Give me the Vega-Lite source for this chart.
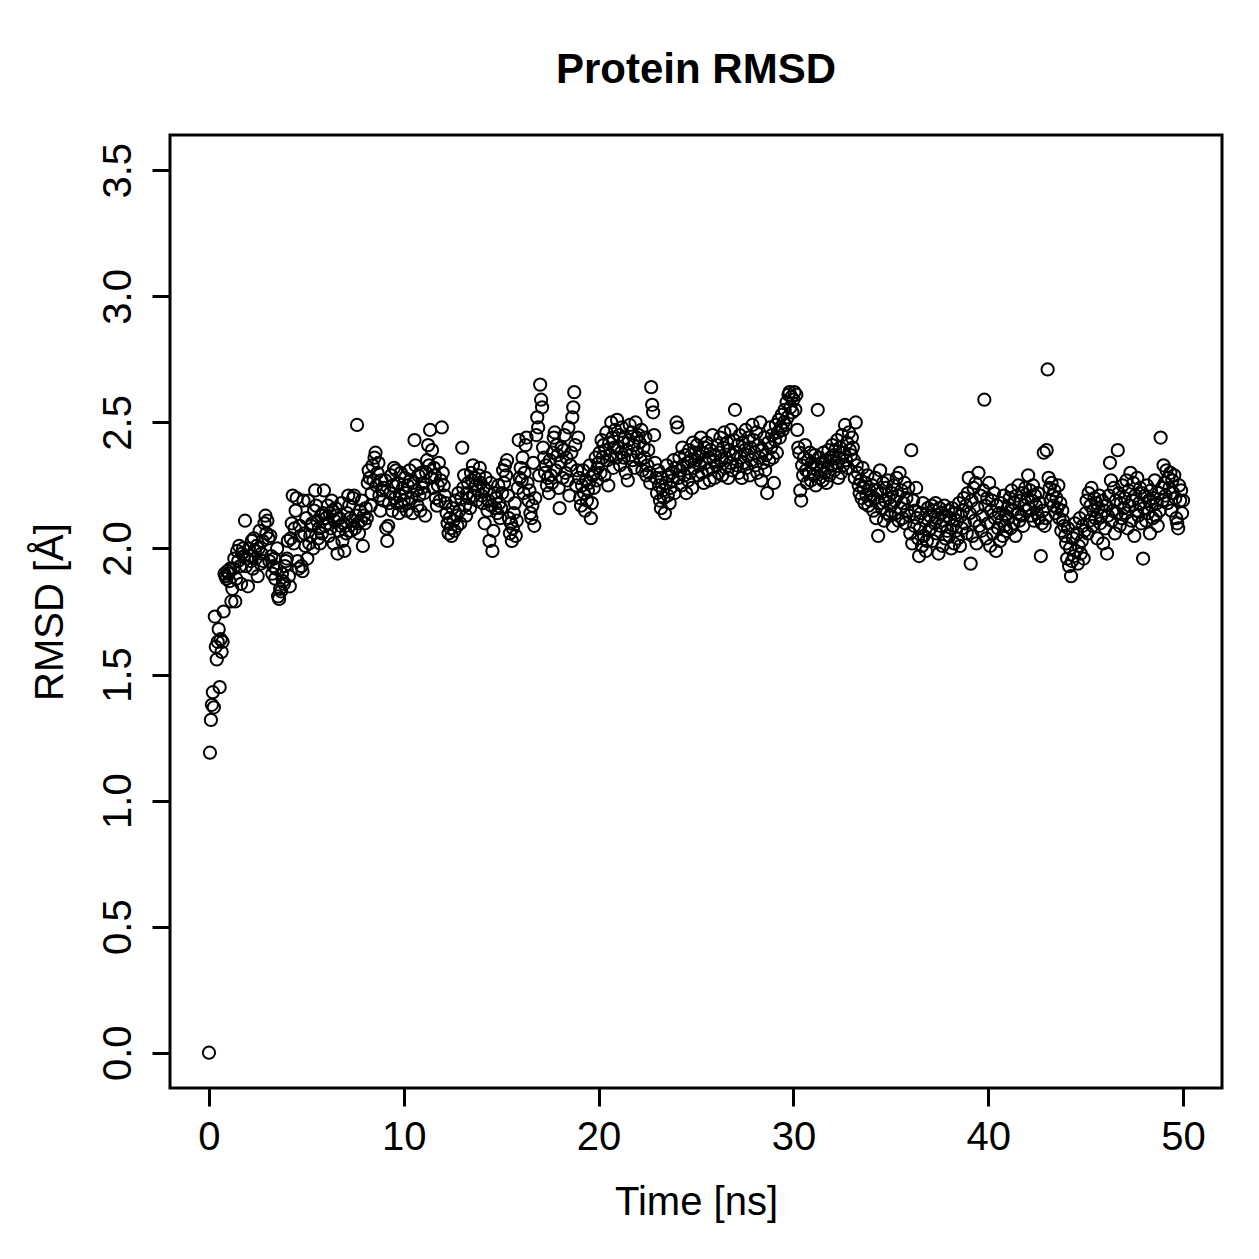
{
  "$schema": "https://vega.github.io/schema/vega-lite/v6.json",
  "width": 1052,
  "height": 953,
  "autosize": {"type": "none"},
  "padding": {"left": 170, "top": 135, "right": 37, "bottom": 171},
  "background": "white",
  "title": {"text": "Protein RMSD", "fontSize": 42, "fontWeight": "bold", "font": "Liberation Sans", "color": "black", "anchor": "middle", "offset": 43},
  "config": {
    "view": {"stroke": "black", "strokeWidth": 3},
    "font": "Liberation Sans"
  },
  "data": {
    "format": {"type": "csv", "parse": {"t": "number", "r": "number"}},
    "values": "t,r\n0,0.00\n0.05,1.19\n0.1,1.32\n0.15,1.38\n0.2,1.43\n0.25,1.37\n0.3,1.73\n0.35,1.61\n0.4,1.56\n0.45,1.63\n0.5,1.68\n0.55,1.45\n0.6,1.64\n0.65,1.59\n0.7,1.63\n0.75,1.75\n0.8,1.90\n0.85,1.89\n0.9,1.88\n0.95,1.91\n1,1.90\n1.05,1.87\n1.1,1.92\n1.15,1.79\n1.2,1.84\n1.25,1.92\n1.3,1.96\n1.35,1.79\n1.4,1.88\n1.45,1.99\n1.5,1.95\n1.55,2.01\n1.6,1.93\n1.65,1.86\n1.7,1.98\n1.75,2.00\n1.8,1.97\n1.85,2.11\n1.9,1.93\n1.95,1.96\n2,1.85\n2.05,2.00\n2.1,1.97\n2.15,1.95\n2.2,2.03\n2.25,1.92\n2.3,2.04\n2.35,1.99\n2.4,1.96\n2.45,2.01\n2.5,1.89\n2.55,2.00\n2.6,2.07\n2.65,1.94\n2.7,1.98\n2.75,2.03\n2.8,1.95\n2.85,2.10\n2.9,2.13\n2.95,2.06\n3,2.11\n3.05,2.04\n3.1,1.95\n3.15,2.05\n3.2,1.97\n3.25,1.90\n3.3,1.93\n3.35,1.96\n3.4,1.88\n3.45,1.92\n3.5,2.00\n3.55,1.81\n3.6,1.80\n3.65,1.84\n3.7,1.83\n3.75,1.90\n3.8,1.87\n3.85,1.86\n3.9,1.93\n3.95,1.95\n4,1.96\n4.05,2.03\n4.1,1.89\n4.15,1.85\n4.2,2.04\n4.25,2.10\n4.3,2.21\n4.35,2.02\n4.4,2.08\n4.45,2.15\n4.5,2.20\n4.55,1.95\n4.6,1.92\n4.65,2.09\n4.7,2.05\n4.75,1.93\n4.8,1.91\n4.85,2.19\n4.9,2.06\n4.95,2.01\n5,2.12\n5.05,1.96\n5.1,2.19\n5.15,2.02\n5.2,2.05\n5.25,2.09\n5.3,2.10\n5.35,2.00\n5.4,2.15\n5.45,2.23\n5.5,2.17\n5.55,2.11\n5.6,2.04\n5.65,2.08\n5.7,2.02\n5.75,2.13\n5.8,2.06\n5.85,2.14\n5.9,2.23\n5.95,2.09\n6,2.12\n6.05,2.10\n6.1,2.17\n6.15,2.05\n6.2,2.14\n6.25,2.08\n6.3,2.19\n6.35,2.15\n6.4,2.02\n6.45,2.11\n6.5,2.16\n6.55,2.13\n6.6,1.98\n6.65,2.07\n6.7,2.12\n6.75,2.09\n6.8,2.18\n6.85,2.03\n6.9,2.10\n6.95,1.99\n7,2.09\n7.05,2.06\n7.1,2.14\n7.15,2.21\n7.2,2.17\n7.25,2.12\n7.3,2.07\n7.35,2.11\n7.4,2.20\n7.45,2.21\n7.5,2.08\n7.55,2.13\n7.6,2.49\n7.65,2.10\n7.7,2.06\n7.75,2.15\n7.8,2.11\n7.85,2.19\n7.9,2.01\n7.95,2.13\n8,2.10\n8.05,2.16\n8.1,2.12\n8.15,2.26\n8.2,2.31\n8.25,2.28\n8.3,2.17\n8.35,2.22\n8.4,2.33\n8.45,2.27\n8.5,2.36\n8.55,2.38\n8.6,2.25\n8.65,2.30\n8.7,2.34\n8.75,2.21\n8.8,2.15\n8.85,2.27\n8.9,2.23\n8.95,2.19\n9,2.24\n9.05,2.27\n9.1,2.08\n9.15,2.03\n9.2,2.09\n9.25,2.18\n9.3,2.22\n9.35,2.29\n9.4,2.15\n9.45,2.25\n9.5,2.32\n9.55,2.20\n9.6,2.31\n9.65,2.18\n9.7,2.26\n9.75,2.14\n9.8,2.21\n9.85,2.30\n9.9,2.17\n9.95,2.24\n10,2.19\n10.05,2.28\n10.1,2.22\n10.15,2.15\n10.2,2.25\n10.25,2.18\n10.3,2.31\n10.35,2.27\n10.4,2.20\n10.45,2.14\n10.5,2.26\n10.55,2.43\n10.6,2.33\n10.65,2.23\n10.7,2.17\n10.75,2.29\n10.8,2.21\n10.85,2.15\n10.9,2.30\n10.95,2.24\n11,2.26\n11.05,2.22\n11.1,2.13\n11.15,2.30\n11.2,2.35\n11.25,2.41\n11.3,2.33\n11.35,2.47\n11.4,2.28\n11.45,2.39\n11.5,2.24\n11.55,2.32\n11.6,2.29\n11.65,2.20\n11.7,2.17\n11.75,2.25\n11.8,2.34\n11.85,2.19\n11.9,2.27\n11.95,2.48\n12,2.30\n12.05,2.25\n12.1,2.21\n12.15,2.18\n12.2,2.14\n12.25,2.10\n12.3,2.06\n12.35,2.12\n12.4,2.08\n12.45,2.05\n12.5,2.16\n12.55,2.11\n12.6,2.07\n12.65,2.19\n12.7,2.13\n12.75,2.09\n12.8,2.22\n12.85,2.15\n12.9,2.10\n12.95,2.20\n13,2.40\n13.05,2.24\n13.1,2.29\n13.15,2.17\n13.2,2.13\n13.25,2.22\n13.3,2.26\n13.35,2.20\n13.4,2.16\n13.45,2.30\n13.5,2.27\n13.55,2.33\n13.6,2.21\n13.65,2.28\n13.7,2.25\n13.75,2.19\n13.8,2.23\n13.85,2.29\n13.9,2.32\n13.95,2.26\n14,2.21\n14.05,2.18\n14.1,2.24\n14.15,2.10\n14.2,2.28\n14.25,2.23\n14.3,2.15\n14.35,2.19\n14.4,2.03\n14.45,2.26\n14.5,2.17\n14.55,1.99\n14.6,2.07\n14.65,2.22\n14.7,2.16\n14.75,2.20\n14.8,2.14\n14.85,2.25\n14.9,2.18\n14.95,2.12\n15,2.16\n15.05,2.22\n15.1,2.31\n15.15,2.26\n15.2,2.33\n15.25,2.29\n15.3,2.35\n15.35,2.21\n15.4,2.12\n15.45,2.06\n15.5,2.10\n15.55,2.03\n15.6,2.08\n15.65,2.14\n15.7,2.18\n15.75,2.05\n15.8,2.11\n15.85,2.24\n15.9,2.43\n15.95,2.28\n16,2.32\n16.05,2.27\n16.1,2.36\n16.15,2.22\n16.2,2.30\n16.25,2.41\n16.3,2.44\n16.35,2.26\n16.4,2.19\n16.45,2.23\n16.5,2.14\n16.55,2.12\n16.6,2.17\n16.65,2.34\n16.7,2.09\n16.75,2.20\n16.8,2.45\n16.85,2.52\n16.9,2.48\n16.95,2.29\n17,2.65\n17.05,2.59\n17.1,2.56\n17.15,2.40\n17.2,2.36\n17.25,2.30\n17.3,2.33\n17.35,2.25\n17.4,2.28\n17.45,2.22\n17.5,2.35\n17.55,2.29\n17.6,2.26\n17.65,2.38\n17.7,2.44\n17.75,2.46\n17.8,2.31\n17.85,2.41\n17.9,2.37\n17.95,2.24\n18,2.16\n18.05,2.34\n18.1,2.40\n18.15,2.28\n18.2,2.39\n18.25,2.45\n18.3,2.30\n18.35,2.36\n18.4,2.27\n18.45,2.48\n18.5,2.21\n18.55,2.33\n18.6,2.38\n18.65,2.52\n18.7,2.56\n18.75,2.62\n18.8,2.41\n18.85,2.25\n18.9,2.31\n18.95,2.44\n19,2.28\n19.05,2.20\n19.1,2.17\n19.15,2.25\n19.2,2.31\n19.25,2.22\n19.3,2.15\n19.35,2.27\n19.4,2.19\n19.45,2.23\n19.5,2.26\n19.55,2.33\n19.6,2.12\n19.65,2.18\n19.7,2.29\n19.75,2.24\n19.8,2.30\n19.85,2.36\n19.9,2.27\n19.95,2.32\n20,2.34\n20.05,2.38\n20.1,2.30\n20.15,2.43\n20.2,2.36\n20.25,2.41\n20.3,2.29\n20.35,2.39\n20.4,2.46\n20.45,2.35\n20.5,2.25\n20.55,2.42\n20.6,2.37\n20.65,2.50\n20.7,2.44\n20.75,2.32\n20.8,2.40\n20.85,2.47\n20.9,2.36\n20.95,2.51\n21,2.40\n21.05,2.45\n21.1,2.33\n21.15,2.38\n21.2,2.48\n21.25,2.42\n21.3,2.36\n21.35,2.44\n21.4,2.30\n21.45,2.39\n21.5,2.27\n21.55,2.43\n21.6,2.49\n21.65,2.37\n21.7,2.46\n21.75,2.35\n21.8,2.41\n21.85,2.32\n21.9,2.50\n21.95,2.44\n22,2.38\n22.05,2.45\n22.1,2.42\n22.15,2.35\n22.2,2.47\n22.25,2.31\n22.3,2.40\n22.35,2.36\n22.4,2.44\n22.45,2.29\n22.5,2.33\n22.55,2.39\n22.6,2.30\n22.65,2.26\n22.7,2.64\n22.75,2.57\n22.8,2.54\n22.85,2.45\n22.9,2.34\n22.95,2.28\n23,2.22\n23.05,2.31\n23.1,2.25\n23.15,2.19\n23.2,2.16\n23.25,2.28\n23.3,2.23\n23.35,2.20\n23.4,2.14\n23.45,2.26\n23.5,2.33\n23.55,2.21\n23.6,2.29\n23.65,2.18\n23.7,2.24\n23.75,2.30\n23.8,2.27\n23.85,2.35\n23.9,2.22\n23.95,2.32\n24,2.50\n24.05,2.48\n24.1,2.28\n24.15,2.36\n24.2,2.31\n24.25,2.25\n24.3,2.40\n24.35,2.33\n24.4,2.29\n24.45,2.37\n24.5,2.22\n24.55,2.34\n24.6,2.27\n24.65,2.39\n24.7,2.30\n24.75,2.35\n24.8,2.24\n24.85,2.42\n24.9,2.32\n24.95,2.38\n25,2.35\n25.05,2.41\n25.1,2.29\n25.15,2.37\n25.2,2.33\n25.25,2.44\n25.3,2.30\n25.35,2.38\n25.4,2.26\n25.45,2.40\n25.5,2.34\n25.55,2.42\n25.6,2.31\n25.65,2.36\n25.7,2.27\n25.75,2.39\n25.8,2.32\n25.85,2.45\n25.9,2.35\n25.95,2.28\n26,2.37\n26.05,2.33\n26.1,2.41\n26.15,2.30\n26.2,2.38\n26.25,2.44\n26.3,2.35\n26.35,2.29\n26.4,2.40\n26.45,2.46\n26.5,2.32\n26.55,2.36\n26.6,2.42\n26.65,2.28\n26.7,2.39\n26.75,2.34\n26.8,2.47\n26.85,2.31\n26.9,2.37\n26.95,2.43\n27,2.55\n27.05,2.38\n27.1,2.33\n27.15,2.41\n27.2,2.30\n27.25,2.45\n27.3,2.36\n27.35,2.28\n27.4,2.42\n27.45,2.34\n27.5,2.39\n27.55,2.47\n27.6,2.32\n27.65,2.37\n27.7,2.44\n27.75,2.29\n27.8,2.40\n27.85,2.35\n27.9,2.49\n27.95,2.43\n28,2.38\n28.05,2.33\n28.1,2.46\n28.15,2.30\n28.2,2.41\n28.25,2.36\n28.3,2.50\n28.35,2.27\n28.4,2.39\n28.45,2.34\n28.5,2.44\n28.55,2.31\n28.6,2.37\n28.65,2.22\n28.7,2.42\n28.75,2.35\n28.8,2.48\n28.85,2.40\n28.9,2.45\n28.95,2.36\n29,2.26\n29.05,2.43\n29.1,2.49\n29.15,2.38\n29.2,2.46\n29.25,2.51\n29.3,2.44\n29.35,2.48\n29.4,2.53\n29.45,2.47\n29.5,2.50\n29.55,2.55\n29.6,2.49\n29.65,2.58\n29.7,2.52\n29.75,2.61\n29.8,2.62\n29.85,2.56\n29.9,2.60\n29.95,2.54\n30,2.59\n30.05,2.62\n30.1,2.55\n30.15,2.61\n30.2,2.47\n30.25,2.40\n30.3,2.38\n30.35,2.23\n30.4,2.19\n30.45,2.33\n30.5,2.29\n30.55,2.36\n30.6,2.41\n30.65,2.31\n30.7,2.26\n30.75,2.35\n30.8,2.30\n30.85,2.38\n30.9,2.27\n30.95,2.34\n31,2.32\n31.05,2.29\n31.1,2.37\n31.15,2.25\n31.2,2.33\n31.25,2.55\n31.3,2.36\n31.35,2.28\n31.4,2.31\n31.45,2.34\n31.5,2.27\n31.55,2.38\n31.6,2.30\n31.65,2.35\n31.7,2.26\n31.75,2.32\n31.8,2.39\n31.85,2.29\n31.9,2.36\n31.95,2.33\n32,2.41\n32.05,2.37\n32.1,2.31\n32.15,2.39\n32.2,2.34\n32.25,2.43\n32.3,2.28\n32.35,2.36\n32.4,2.40\n32.45,2.30\n32.5,2.45\n32.55,2.33\n32.6,2.38\n32.65,2.49\n32.7,2.35\n32.75,2.42\n32.8,2.32\n32.85,2.46\n32.9,2.39\n32.95,2.37\n33,2.44\n33.05,2.40\n33.1,2.35\n33.15,2.28\n33.2,2.50\n33.25,2.33\n33.3,2.30\n33.35,2.25\n33.4,2.22\n33.45,2.27\n33.5,2.20\n33.55,2.32\n33.6,2.24\n33.65,2.18\n33.7,2.26\n33.75,2.21\n33.8,2.29\n33.85,2.17\n33.9,2.23\n33.95,2.19\n34,2.21\n34.05,2.25\n34.1,2.15\n34.15,2.20\n34.2,2.28\n34.25,2.12\n34.3,2.23\n34.35,2.05\n34.4,2.18\n34.45,2.31\n34.5,2.22\n34.55,2.16\n34.6,2.26\n34.65,2.11\n34.7,2.19\n34.75,2.24\n34.8,2.14\n34.85,2.27\n34.9,2.20\n34.95,2.13\n35,2.17\n35.05,2.22\n35.1,2.09\n35.15,2.25\n35.2,2.19\n35.25,2.14\n35.3,2.28\n35.35,2.21\n35.4,2.11\n35.45,2.30\n35.5,2.16\n35.55,2.23\n35.6,2.12\n35.65,2.18\n35.7,2.26\n35.75,2.10\n35.8,2.20\n35.85,2.15\n35.9,2.24\n35.95,2.13\n36,2.06\n36.05,2.39\n36.1,2.02\n36.15,2.19\n36.2,2.09\n36.25,2.15\n36.3,2.24\n36.35,2.12\n36.4,2.04\n36.45,1.97\n36.5,2.08\n36.55,2.14\n36.6,2.01\n36.65,2.18\n36.7,2.05\n36.75,2.11\n36.8,1.99\n36.85,2.03\n36.9,2.16\n36.95,2.07\n37,2.13\n37.05,2.08\n37.1,2.17\n37.15,2.03\n37.2,2.15\n37.25,2.10\n37.3,2.18\n37.35,2.06\n37.4,2.12\n37.45,1.98\n37.5,2.16\n37.55,2.09\n37.6,2.14\n37.65,2.01\n37.7,2.11\n37.75,2.17\n37.8,2.04\n37.85,2.13\n37.9,2.07\n37.95,2.15\n38,2.05\n38.05,2.12\n38.1,2.00\n38.15,2.16\n38.2,2.09\n38.25,2.02\n38.3,2.14\n38.35,2.07\n38.4,2.11\n38.45,2.04\n38.5,2.18\n38.55,2.01\n38.6,2.13\n38.65,2.08\n38.7,2.15\n38.75,2.20\n38.8,2.10\n38.85,2.17\n38.9,2.06\n38.95,2.22\n39,2.28\n39.05,2.14\n39.1,1.94\n39.15,2.19\n39.2,2.05\n39.25,2.24\n39.3,2.11\n39.35,2.26\n39.4,2.02\n39.45,2.16\n39.5,2.30\n39.55,2.09\n39.6,2.21\n39.65,2.07\n39.7,2.13\n39.75,2.23\n39.8,2.59\n39.85,2.17\n39.9,2.04\n39.95,2.20\n40,2.10\n40.05,2.26\n40.1,2.01\n40.15,2.15\n40.2,2.19\n40.25,2.06\n40.3,2.22\n40.35,2.12\n40.4,1.99\n40.45,2.17\n40.5,2.08\n40.55,2.14\n40.6,2.03\n40.65,2.18\n40.7,2.11\n40.75,2.05\n40.8,2.21\n40.85,2.09\n40.9,2.13\n40.95,2.07\n41,2.16\n41.05,2.12\n41.1,2.20\n41.15,2.08\n41.2,2.23\n41.25,2.15\n41.3,2.10\n41.35,2.18\n41.4,2.05\n41.45,2.21\n41.5,2.14\n41.55,2.25\n41.6,2.11\n41.65,2.19\n41.7,2.13\n41.75,2.22\n41.8,2.09\n41.85,2.17\n41.9,2.24\n41.95,2.15\n42,2.20\n42.05,2.29\n42.1,2.16\n42.15,2.23\n42.2,2.13\n42.25,2.19\n42.3,2.25\n42.35,2.11\n42.4,2.21\n42.45,2.17\n42.5,2.14\n42.55,2.22\n42.6,2.12\n42.65,2.18\n42.7,1.97\n42.75,2.10\n42.8,2.15\n42.85,2.38\n42.9,2.09\n42.95,2.12\n43,2.39\n43.05,2.71\n43.1,2.28\n43.15,2.24\n43.2,2.19\n43.25,2.26\n43.3,2.21\n43.35,2.17\n43.4,2.23\n43.45,2.14\n43.5,2.20\n43.55,2.16\n43.6,2.25\n43.65,2.12\n43.7,2.18\n43.75,2.07\n43.8,2.15\n43.85,2.11\n43.9,2.09\n43.95,2.05\n44,2.02\n44.05,1.96\n44.1,2.08\n44.15,1.93\n44.2,2.00\n44.25,1.89\n44.3,1.95\n44.35,2.04\n44.4,1.97\n44.45,2.10\n44.5,1.99\n44.55,2.06\n44.6,1.94\n44.65,2.01\n44.7,2.12\n44.75,1.98\n44.8,2.03\n44.85,2.09\n44.9,1.96\n44.95,2.07\n45,2.14\n45.05,2.19\n45.1,2.06\n45.15,2.22\n45.2,2.11\n45.25,2.17\n45.3,2.24\n45.35,2.09\n45.4,2.15\n45.45,2.20\n45.5,2.12\n45.55,2.18\n45.6,2.04\n45.65,2.16\n45.7,2.21\n45.75,2.10\n45.8,2.13\n45.85,2.19\n45.9,2.02\n45.95,2.15\n46,2.08\n46.05,2.17\n46.1,1.98\n46.15,2.13\n46.2,2.21\n46.25,2.34\n46.3,2.27\n46.35,2.11\n46.4,2.15\n46.45,2.24\n46.5,2.06\n46.55,2.19\n46.6,2.14\n46.65,2.39\n46.7,2.22\n46.75,2.09\n46.8,2.18\n46.85,2.12\n46.9,2.25\n46.95,2.16\n47,2.20\n47.05,2.14\n47.1,2.27\n47.15,2.08\n47.2,2.23\n47.25,2.17\n47.3,2.30\n47.35,2.11\n47.4,2.19\n47.45,2.26\n47.5,2.05\n47.55,2.21\n47.6,2.15\n47.65,2.28\n47.7,2.13\n47.75,2.18\n47.8,2.24\n47.85,2.10\n47.9,2.22\n47.95,1.96\n48,2.16\n48.05,2.21\n48.1,2.11\n48.15,2.25\n48.2,2.14\n48.25,2.19\n48.3,2.06\n48.35,2.23\n48.4,2.17\n48.45,2.12\n48.5,2.20\n48.55,2.27\n48.6,2.13\n48.65,2.18\n48.7,2.09\n48.75,2.22\n48.8,2.15\n48.85,2.44\n48.9,2.24\n48.95,2.19\n49,2.33\n49.05,2.26\n49.1,2.21\n49.15,2.31\n49.2,2.18\n49.25,2.28\n49.3,2.24\n49.35,2.30\n49.4,2.15\n49.45,2.27\n49.5,2.22\n49.55,2.29\n49.6,2.20\n49.65,2.12\n49.7,2.10\n49.75,2.08\n49.8,2.25\n49.85,2.19\n49.9,2.23\n49.95,2.14\n50,2.19"
  },
  "mark": {"type": "point", "shape": "circle", "filled": false, "stroke": "black", "strokeWidth": 2, "size": 150, "opacity": 1},
  "encoding": {
    "x": {
      "field": "t", "type": "quantitative",
      "scale": {"domain": [-2, 52], "nice": false, "zero": false},
      "axis": {
        "title": "Time [ns]", "values": [0, 10, 20, 30, 40, 50], "format": "d",
        "domain": false, "grid": false,
        "ticks": true, "tickSize": 18, "tickWidth": 3, "tickColor": "black",
        "labelFont": "Liberation Sans", "labelFontSize": 40, "labelColor": "black", "labelPadding": 11,
        "titleFont": "Liberation Sans", "titleFontSize": 40, "titleFontWeight": "normal", "titleColor": "black", "titlePadding": 25
      }
    },
    "y": {
      "field": "r", "type": "quantitative",
      "scale": {"domain": [-0.14, 3.64], "nice": false, "zero": false},
      "axis": {
        "title": "RMSD [Å]", "values": [0, 0.5, 1, 1.5, 2, 2.5, 3, 3.5], "format": ".1f",
        "domain": false, "grid": false,
        "ticks": true, "tickSize": 18, "tickWidth": 3, "tickColor": "black",
        "labelFont": "Liberation Sans", "labelFontSize": 40, "labelColor": "black",
        "labelAngle": -90, "labelAlign": "center", "labelBaseline": "bottom", "labelPadding": 14,
        "titleFont": "Liberation Sans", "titleFontSize": 40, "titleFontWeight": "normal", "titleColor": "black", "titlePadding": 28
      }
    }
  }
}
